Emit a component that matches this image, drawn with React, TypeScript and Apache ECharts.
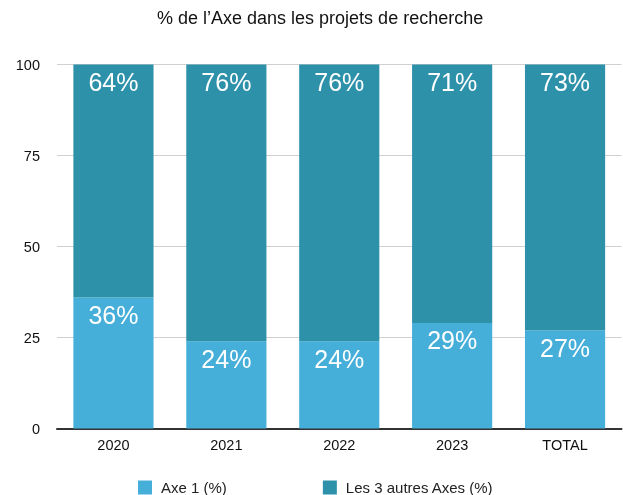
import React, { useEffect, useRef } from "react";
import * as echarts from "echarts";

const categories = ["2020", "2021", "2022", "2023", "TOTAL"];
const axe1 = [36, 24, 24, 29, 27];
const autres = [64, 76, 76, 71, 73];
const seriesNames = ["Axe 1 (%)", "Les 3 autres Axes (%)"];
const titleText = "% de l\u2019Axe dans les projets de recherche";

const FONT = "Liberation Sans, Arial, Helvetica, sans-serif";

export default function App() {
  const ref = useRef<HTMLDivElement>(null);
  useEffect(() => {
    if (!ref.current) return;
    const chart = echarts.init(ref.current, null, { renderer: "svg" });
    const label = {
      show: true,
      position: "insideTop",
      distance: 5,
      color: "#ffffff",
      fontSize: 25,
      fontFamily: FONT,
      formatter: "{c}%",
    };
    chart.setOption({
      animation: false,
      textStyle: { fontFamily: FONT },
      title: {
        text: titleText,
        left: 157,
        top: 9,
        padding: 0,
        textStyle: { fontSize: 18, fontWeight: "normal", color: "#111", fontFamily: FONT },
      },
      legend: {
        left: 138,
        top: 480,
        padding: 0,
        itemWidth: 14,
        itemHeight: 14,
        itemGap: 96,
        icon: "rect",
        textStyle: { fontSize: 15, color: "#222", fontFamily: FONT, padding: [0, 0, 0, 4] },
        data: seriesNames,
      },
      grid: { left: 57, right: 1.5, top: 64.5, bottom: 66.5, containLabel: false },
      xAxis: {
        type: "category",
        data: categories,
        axisTick: { show: false },
        axisLine: { lineStyle: { color: "#333", width: 2 } },
        axisLabel: { fontSize: 14.5, color: "#111", margin: 9, fontFamily: FONT },
      },
      yAxis: {
        type: "value",
        min: 0,
        max: 100,
        interval: 25,
        axisLine: { show: false },
        axisTick: { show: false },
        splitLine: { lineStyle: { color: "#d0d0d0", width: 1 } },
        axisLabel: { fontSize: 14.5, color: "#111", margin: 17, fontFamily: FONT },
      },
      series: [
        {
          name: seriesNames[0],
          type: "bar",
          stack: "total",
          barWidth: "71%",
          data: axe1,
          itemStyle: { color: "#45AED9" },
          label,
        },
        {
          name: seriesNames[1],
          type: "bar",
          stack: "total",
          barWidth: "71%",
          data: autres,
          itemStyle: { color: "#2E91AA" },
          label,
        },
      ],
    });
    return () => chart.dispose();
  }, []);
  return (
    <div
      ref={ref}
      style={{ position: "fixed", left: 0, top: 0, width: 623, height: 495 }}
    />
  );
}
